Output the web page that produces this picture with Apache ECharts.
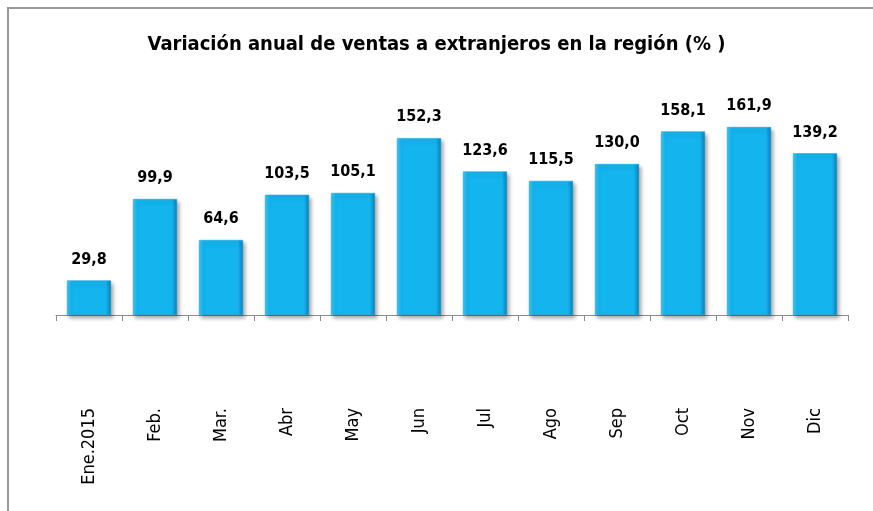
<!DOCTYPE html>
<html>
<head>
<meta charset="utf-8">
<script src="https://cdn.jsdelivr.net/npm/echarts@6/dist/echarts.min.js"></script>
<style>
  html, body { margin: 0; padding: 0; background: #fff; }
  #chart { width: 873px; height: 511px; }
</style>
</head>
<body>
<div id="chart"></div>
<script>
// data
const months = ["Ene.2015", "Feb.", "Mar.", "Abr", "May", "Jun", "Jul", "Ago", "Sep", "Oct", "Nov", "Dic"];
const variacion = [29.8, 99.9, 64.6, 103.5, 105.1, 152.3, 123.6, 115.5, 130.0, 158.1, 161.9, 139.2];
const chartTitle = "Variación anual de ventas a extranjeros en la región (% )";

const font = "'DejaVu Sans Condensed', 'Liberation Sans', sans-serif";

var myChart = echarts.init(document.getElementById("chart"));

myChart.setOption({
  animation: false,
  textStyle: { fontFamily: font },
  title: {
    text: chartTitle,
    left: "center",
    top: 30,
    textStyle: { fontFamily: font, fontSize: 20, fontWeight: "bold", color: "#000" },
  },
  graphic: [
    {
      type: "rect",
      shape: { x: 8, y: 8, width: 920, height: 540 },
      style: { fill: "none", stroke: "#9a9a9a", lineWidth: 2 },
      silent: true,
    },
  ],
  grid: { left: 56, right: 25, top: 106, bottom: 196, containLabel: false },
  xAxis: {
    type: "category",
    data: months,
    axisLine: { show: true, lineStyle: { color: "#8c8c8c", width: 1 } },
    axisTick: { show: true, length: 6, lineStyle: { color: "#8c8c8c" } },
    axisLabel: {
      rotate: 90,
      margin: 93,
      fontSize: 18,
      color: "#000",
      fontFamily: font,
    },
  },
  yAxis: {
    type: "value",
    min: 0,
    max: 180,
    show: false,
    splitLine: { show: false },
  },
  series: [
    {
      name: "Variación",
      type: "bar",
      data: variacion,
      barWidth: 44,
      itemStyle: {
        color: new echarts.graphic.LinearGradient(0, 0, 1, 0, [
          { offset: 0, color: "#3cc8f4" },
          { offset: 0.1, color: "#14b4ee" },
          { offset: 0.88, color: "#14b4ee" },
          { offset: 1, color: "#0a82bc" },
        ]),
        borderColor: "#0e9fd8",
        borderWidth: 0.5,
        shadowColor: "rgba(0,0,0,0.35)",
        shadowBlur: 4,
        shadowOffsetX: 2,
        shadowOffsetY: 3,
      },
      label: {
        show: true,
        position: "top",
        distance: 13,
        fontSize: 16,
        fontWeight: "bold",
        color: "#000",
        fontFamily: font,
        formatter: function (p) {
          return p.value.toFixed(1).replace(".", ",");
        },
      },
    },
  ],
});
</script>
</body>
</html>
